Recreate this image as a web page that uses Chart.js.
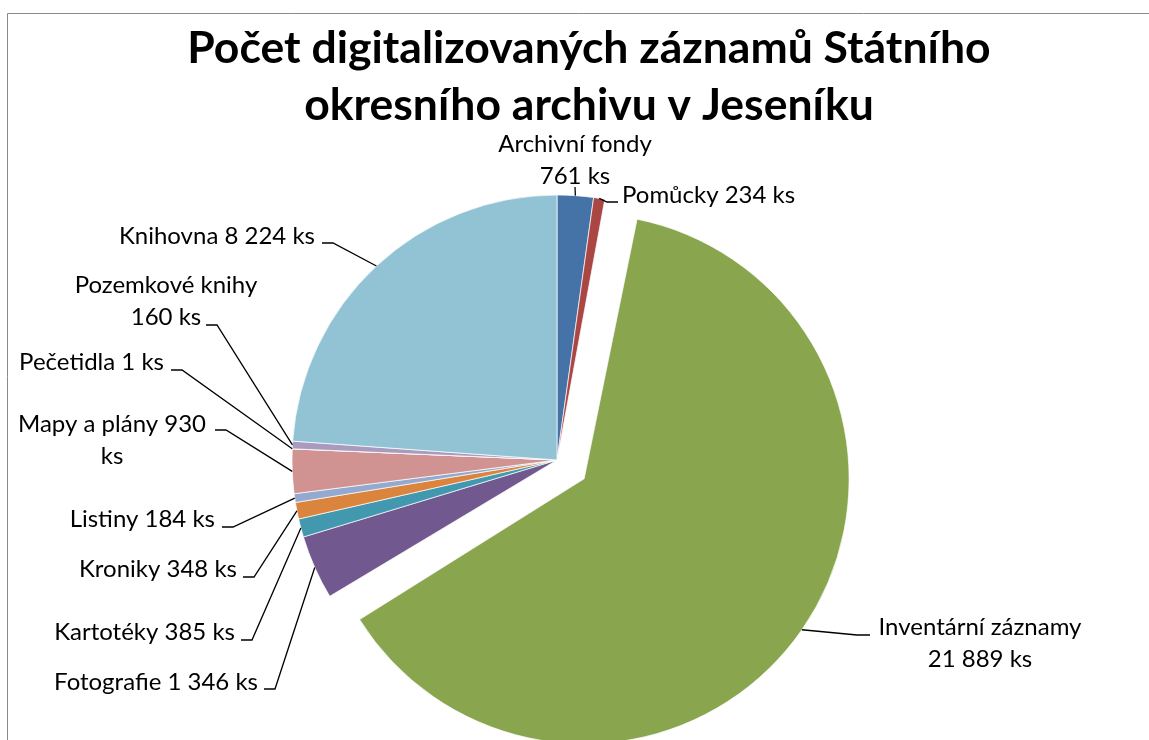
<!DOCTYPE html>
<html>
<head>
<meta charset="utf-8">
<script src="https://cdn.jsdelivr.net/npm/chart.js@4"></script>
<style>
  html, body { margin: 0; padding: 0; background: #fff; }
</style>
</head>
<body>
<canvas id="chart" width="1149" height="740"></canvas>
<script>
const titleLines = ['Počet digitalizovaných záznamů Státního', 'okresního archivu v Jeseníku'];
const categories = ['Archivní fondy', 'Pomůcky', 'Inventární záznamy', 'Fotografie', 'Kartotéky', 'Kroniky', 'Listiny', 'Mapy a plány', 'Pečetidla', 'Pozemkové knihy', 'Knihovna'];
const counts = [761, 234, 21889, 1346, 385, 348, 184, 930, 1, 160, 8224];
const colors = ['#4572A7', '#AA4643', '#89A54E', '#71588F', '#4198AF', '#DB843D', '#93A9CF', '#D19392', '#B9CD96', '#A99BBD', '#92C3D5'];
const exploded = 2; // Inventární záznamy is pulled out

// where each data label sits and where its leader line leaves the text
const labelLayout = [
  { x: 575, y: 152, align: 'center', split: 'name', from: [575, 187], tick: 0 },
  { x: 622, y: 203, align: 'left', from: [618, 202], tick: -11 },
  { x: 980, y: 635, align: 'center', split: 'name', from: [870, 635], tick: -13 },
  { x: 258, y: 690, align: 'right', from: [264, 689], tick: 11 },
  { x: 235, y: 640, align: 'right', from: [241, 640], tick: 11 },
  { x: 237, y: 577, align: 'right', from: [243, 577], tick: 11 },
  { x: 215, y: 527, align: 'right', from: [222, 527], tick: 11 },
  { x: 112, y: 432, align: 'center', split: 'unit', from: [215, 430], tick: 11 },
  { x: 164, y: 370, align: 'right', from: [171, 370], tick: 11 },
  { x: 166, y: 293, align: 'center', split: 'name', from: [206, 325], tick: 11 },
  { x: 315, y: 244, align: 'right', from: [322, 243], tick: 11 },
];

const fmt = v => String(v).replace(/\B(?=(\d{3})+(?!\d))/g, ' ');

function labelLines(i, split) {
  const num = fmt(counts[i]);
  if (split === 'name') return [categories[i], num + ' ks'];
  if (split === 'unit') return [categories[i] + ' ' + num, 'ks'];
  return [categories[i] + ' ' + num + ' ks'];
}

const pullOut = 33;

const excelLook = {
  id: 'excelLook',
  afterDatasetsUpdate(chart) {
    // Chart.js grows an offset arc's radius by offset/4; undo that so the slice keeps its size
    const arc = chart.getDatasetMeta(0).data[exploded];
    arc.outerRadius -= pullOut;
  },
  beforeDraw(chart) {
    const ctx = chart.ctx;
    ctx.save();
    ctx.strokeStyle = '#8a8a8a';
    ctx.lineWidth = 1;
    ctx.beginPath();
    ctx.moveTo(7.5, chart.height);
    ctx.lineTo(7.5, 13.5);
    ctx.lineTo(chart.width, 13.5);
    ctx.stroke();

    ctx.fillStyle = '#000';
    ctx.font = 'bold 44.5px Lato';
    ctx.textAlign = 'center';
    ctx.textBaseline = 'alphabetic';
    ctx.fillText(titleLines[0], 589, 63);
    ctx.fillText(titleLines[1], 589, 120);
    ctx.restore();
  },
  afterDatasetsDraw(chart) {
    const ctx = chart.ctx;
    const meta = chart.getDatasetMeta(0);
    const r = meta.controller.outerRadius;
    ctx.save();
    ctx.strokeStyle = '#000';
    ctx.lineWidth = 1.3;
    ctx.fillStyle = '#000';
    ctx.font = '24px Lato';
    ctx.textBaseline = 'alphabetic';
    meta.data.forEach((arc, i) => {
      const p = arc.getProps(['x', 'y', 'startAngle', 'endAngle']);
      const mid = (p.startAngle + p.endAngle) / 2;
      const shift = i === exploded ? pullOut : 0;
      const ex = p.x + Math.cos(mid) * (r + shift);
      const ey = p.y + Math.sin(mid) * (r + shift);
      const L = labelLayout[i];
      ctx.beginPath();
      ctx.moveTo(L.from[0], L.from[1]);
      ctx.lineTo(L.from[0] + L.tick, L.from[1]);
      ctx.lineTo(ex, ey);
      ctx.stroke();

      ctx.textAlign = L.align;
      labelLines(i, L.split).forEach((line, k) => {
        ctx.fillText(line, L.x, L.y + k * 32);
      });
    });
    ctx.restore();
  }
};

new Chart(document.getElementById('chart'), {
  type: 'pie',
  data: {
    labels: categories,
    datasets: [{
      data: counts,
      backgroundColor: colors,
      borderColor: 'rgba(255,255,255,0.7)',
      borderWidth: 1,
      radius: 265,
      offset: counts.map((v, i) => (i === exploded ? pullOut * 4 : 0)),
    }],
  },
  options: {
    responsive: false,
    animation: false,
    layout: { padding: { left: 0, right: 35, top: 180, bottom: 0 } },
    plugins: {
      legend: { display: false },
      tooltip: { enabled: false },
    },
  },
  plugins: [excelLook],
});
</script>
</body>
</html>
